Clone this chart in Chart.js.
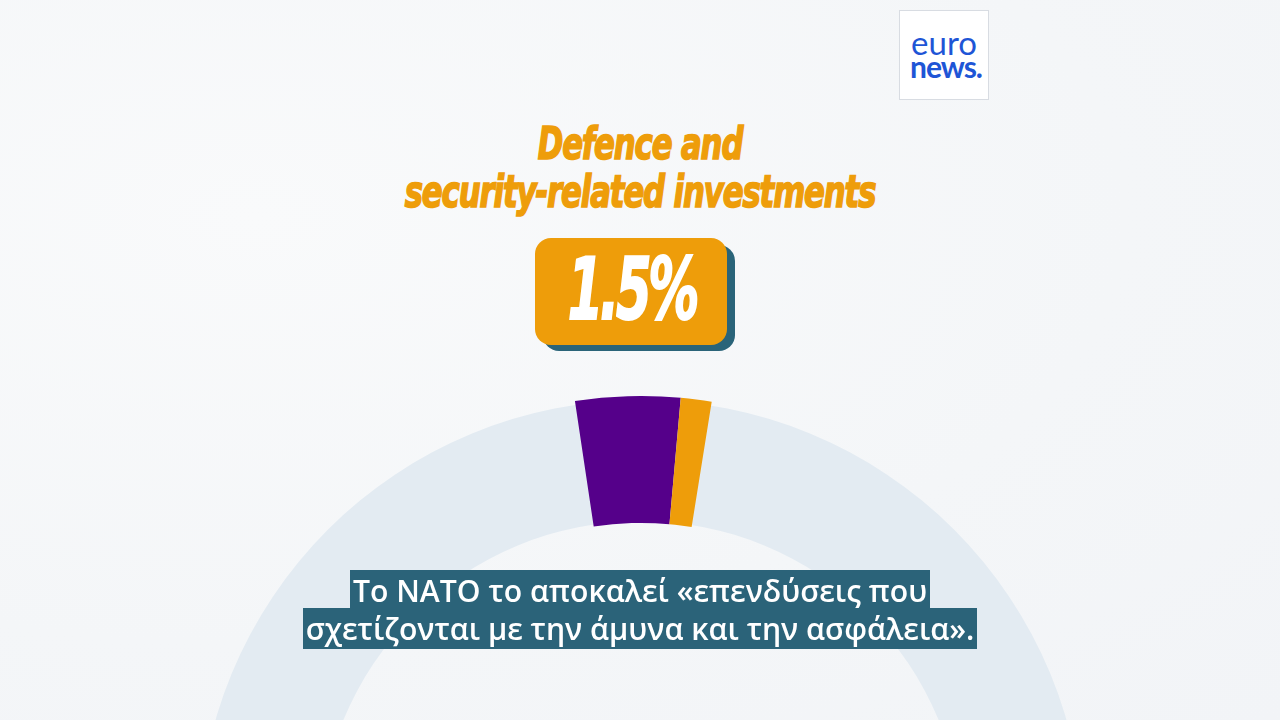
<!DOCTYPE html>
<html>
<head>
<meta charset="utf-8">
<script src="https://cdn.jsdelivr.net/npm/chart.js@4.4.1/dist/chart.umd.min.js"></script>
<style>
html,body{margin:0;padding:0;width:1280px;height:720px;overflow:hidden;background:#f5f6f8;}
#bg{position:absolute;left:0;top:0;width:1280px;height:720px;
background:radial-gradient(ellipse at 20% 30%,#f9fafb 0%,#f4f6f8 60%,#f2f4f7 100%);}
#ringCanvas{position:absolute;left:198px;top:400px;}
#segCanvas{position:absolute;left:194px;top:396px;}
#title{position:absolute;left:0;width:1280px;top:120px;text-align:center;color:#ee9d0a;
font-family:"Liberation Sans Narrow","DejaVu Sans Condensed",sans-serif;font-weight:bold;font-style:italic;
font-size:45px;line-height:48px;letter-spacing:-1.5px;transform:scaleX(0.76);-webkit-text-stroke:1.6px #ee9d0a;}
#badgeShadow{position:absolute;left:543px;top:245px;width:192px;height:106px;border-radius:16px;background:#2a6479;}
#badge{position:absolute;left:535px;top:238px;width:192px;height:107px;border-radius:16px;background:#ee9d0a;}
#badgeText{position:absolute;left:535px;top:236px;width:192px;height:107px;
color:#fff;text-align:center;font-family:"Liberation Sans Narrow","DejaVu Sans Condensed",sans-serif;font-weight:bold;font-style:italic;
font-size:86px;line-height:107px;letter-spacing:-5px;transform:scaleX(0.66);-webkit-text-stroke:2px #fff;}
#logo{position:absolute;left:899px;top:10px;width:88px;height:88px;background:#fff;border:1px solid #d8dce2;
font-family:"Lato","Noto Sans",sans-serif;color:#1e55d6;text-align:center;}
#logo .l1{position:absolute;left:0;width:88px;top:16px;font-size:33px;line-height:30px;font-weight:400;}
#logo .l2{position:absolute;left:2px;width:88px;top:40px;font-size:30px;line-height:30px;font-weight:bold;letter-spacing:-1px;}
#subs{position:absolute;left:0;width:1280px;top:572px;text-align:center;font-family:"Open Sans",sans-serif;
font-size:30.2px;line-height:37.5px;color:#fff;font-weight:600;}
#subs span{background:#2b6379;padding:0 3px;box-decoration-break:clone;-webkit-box-decoration-break:clone;}
</style>
</head>
<body>
<div id="bg"></div>
<canvas id="ringCanvas" width="886" height="443"></canvas>
<canvas id="segCanvas" width="894" height="447"></canvas>
<div id="title">Defence and<br>security-related investments</div>
<div id="badgeShadow"></div>
<div id="badge"></div>
<div id="badgeText">1.5%</div>
<div id="logo"><div class="l1">euro</div><div class="l2">news.</div></div>
<div id="subs"><span>Το ΝΑΤΟ το αποκαλεί «επενδύσεις που </span><br><span>σχετίζονται με την άμυνα και την ασφάλεια».</span></div>
<script>
// gauge data, in degrees of the half circle (total 180)
const gaugeLabels=["before","Core defence","Defence and security-related investments","after"]
const gaugeValues=[81.5,13.6,4.0,80.9]
const gaugeColours=["rgba(0,0,0,0)","#55008a","#ee9d0a","rgba(0,0,0,0)"]
const ringLabels=["track"]
const ringValues=[180]
const ringColour="#e3ebf2"

Chart.defaults.animation=false
Chart.defaults.devicePixelRatio=1

let ringChart=new Chart(document.getElementById('ringCanvas'),{
  type:'doughnut',
  data:{labels:ringLabels,datasets:[{data:ringValues,backgroundColor:[ringColour],borderWidth:0}]},
  options:{responsive:false,rotation:-90,circumference:180,cutout:'72.7%',
    plugins:{legend:{display:false},tooltip:{enabled:false}}}
})

let segChart=new Chart(document.getElementById('segCanvas'),{
  type:'doughnut',
  data:{labels:gaugeLabels,datasets:[{data:gaugeValues,backgroundColor:gaugeColours,borderWidth:0}]},
  options:{responsive:false,rotation:-90,circumference:180,cutout:'71.6%',
    plugins:{legend:{display:false},tooltip:{enabled:false}}}
})
</script>
</body>
</html>
